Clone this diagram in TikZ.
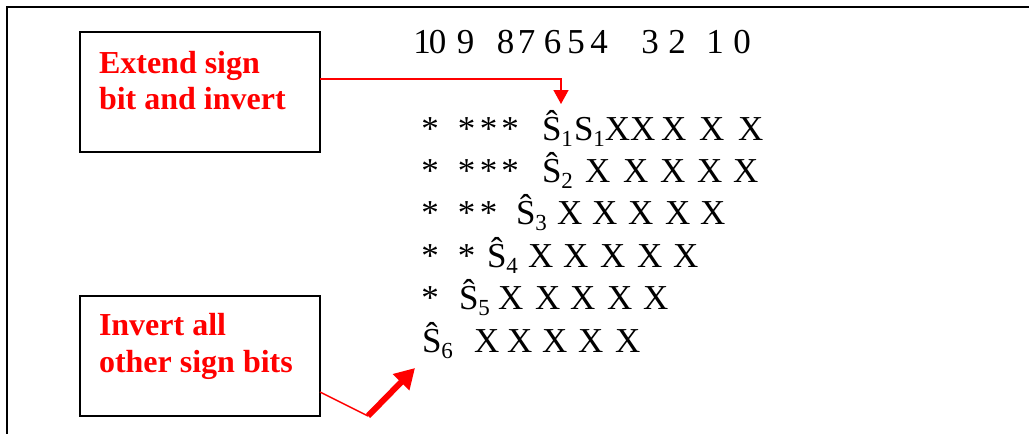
\documentclass[tikz,border=0pt]{standalone}
\usepackage{fontspec}
\setmainfont{Liberation Serif}
\usetikzlibrary{arrows.meta,calc}
\definecolor{pptred}{RGB}{255,0,0}
\newcommand{\sbt}[1]{\raisebox{-3pt}{\fontsize{11.5}{12}\selectfont #1}}
\begin{document}
\begin{tikzpicture}[x=0.5pt,y=-0.5pt,
  every node/.style={inner sep=0pt, outer sep=0pt},
  rowtxt/.style={font=\fontsize{17.5}{20}\selectfont, anchor=base west},
  astk/.style={font=\fontsize{17.5}{20}\selectfont, anchor=base},
  lbl/.style={text=pptred, font=\bfseries\fontsize{16}{18}\selectfont, anchor=base west},
  callout/.style={draw, line width=1pt, minimum width=120pt, minimum height=60pt},
  redline/.style={draw=pptred, line width=0.75pt},
  bigarrow/.style={draw=pptred, line width=3pt, -{Triangle[width=11pt,length=10pt]}},
]
\useasboundingbox (0,0) rectangle (1029,434);
% frame
\draw[line width=1.4pt] (7,440) -- (7,7) -- (1035,7);

% call-out boxes
\node[callout] (box1) at (200,92) {};
\node[lbl] (t1a) at (99,73) {Extend sign};
\node[lbl] (t1b) at (99,109) {bit and invert};
\node[callout] (box2) at (200,356) {};
\node[lbl] (t2a) at (99,335) {Invert all};
\node[lbl] (t2b) at (99,372) {other sign bits};

% bit numbers
\foreach \x/\d [count=\i] in {422/1,437.5/0,465.5/9,505.5/8,526.5/7,552.5/6,576/5,599/4,650/3,677/2,715/1,742/0}
  \node[astk] (d\i) at (\x,53) {\d};

% row 1
\foreach \x [count=\i] in {430,466.5,488.5,510} \node[astk] (r1s\i) at (\x,140) {*};
\node[rowtxt] (r1h) at (542,140) {Ŝ\sbt{1}};
\node[rowtxt] (r1g) at (574,140) {S\sbt{1}XX};
\foreach \x [count=\i] in {661,699,738} \node[rowtxt] (r1x\i) at (\x,140) {X};
% row 2
\foreach \x [count=\i] in {430,466.5,488.5,510} \node[astk] (r2s\i) at (\x,182) {*};
\node[rowtxt] (r2h) at (542,182) {Ŝ\sbt{2}};
\foreach \x [count=\i] in {585,623,660,697,733} \node[rowtxt] (r2x\i) at (\x,182) {X};
% row 3
\foreach \x [count=\i] in {430,466.5,488.5} \node[astk] (r3s\i) at (\x,224) {*};
\node[rowtxt] (r3h) at (516,224) {Ŝ\sbt{3}};
\foreach \x [count=\i] in {557,592,628,665,700} \node[rowtxt] (r3x\i) at (\x,224) {X};
% row 4
\foreach \x [count=\i] in {430,466.5} \node[astk] (r4s\i) at (\x,267) {*};
\node[rowtxt] (r4h) at (487,267) {Ŝ\sbt{4}};
\foreach \x [count=\i] in {528,563,600,637,673} \node[rowtxt] (r4x\i) at (\x,267) {X};
% row 5
\node[astk] (r5s1) at (430,309) {*};
\node[rowtxt] (r5h) at (459,309) {Ŝ\sbt{5}};
\foreach \x [count=\i] in {498,535,570,607,643} \node[rowtxt] (r5x\i) at (\x,309) {X};
% row 6
\node[rowtxt] (r6h) at (422,352) {Ŝ\sbt{6}};
\foreach \x [count=\i] in {474,507,542,578,615} \node[rowtxt] (r6x\i) at (\x,352) {X};

% connectors
\coordinate (bend1) at (561,79);
\coordinate (tip1) at (561,104);
\draw[redline, -{Triangle[width=7.5pt,length=7pt]}] (box1.east |- bend1) -- (bend1) -- (tip1);
\coordinate (from2) at (320,392);
\coordinate (kink2) at (368,416);
\coordinate (tip2) at (415,368);
\draw[redline] (box2.east |- from2) -- (kink2);
\draw[bigarrow] (kink2) -- (tip2);
\end{tikzpicture}
\end{document}
